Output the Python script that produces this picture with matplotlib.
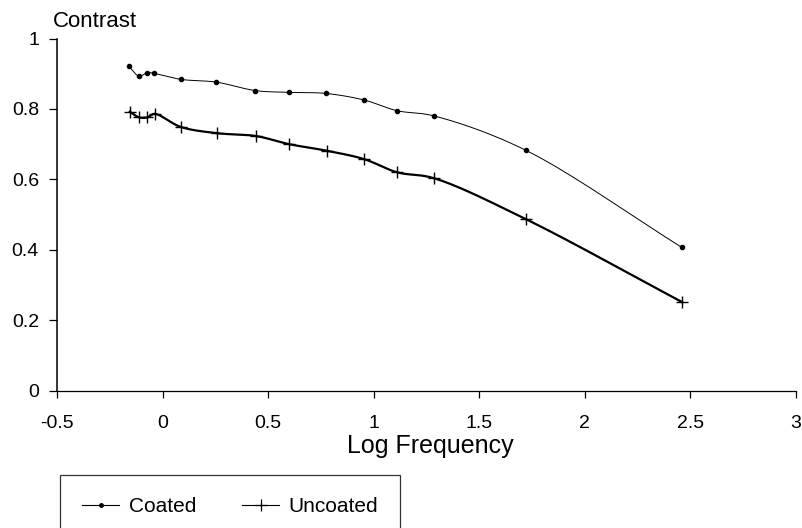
import numpy as np
import matplotlib
matplotlib.use("Agg")
import matplotlib.pyplot as plt
from matplotlib.lines import Line2D

# ---- data ----
coated_x = [-0.160, -0.112, -0.072, -0.041, 0.085, 0.255, 0.440, 0.598, 0.772, 0.956, 1.110, 1.286, 1.722, 2.458]
coated_y = [0.921, 0.893, 0.903, 0.901, 0.884, 0.876, 0.852, 0.847, 0.844, 0.825, 0.795, 0.780, 0.682, 0.407]
uncoated_x = [-0.155, -0.112, -0.072, -0.038, 0.085, 0.258, 0.442, 0.598, 0.779, 0.956, 1.110, 1.286, 1.720, 2.458]
uncoated_y = [0.792, 0.776, 0.776, 0.786, 0.749, 0.731, 0.723, 0.700, 0.681, 0.657, 0.620, 0.603, 0.487, 0.252]
xticks = [-0.5, 0, 0.5, 1, 1.5, 2, 2.5, 3]
xticklabels = ["-0.5", "0", "0.5", "1", "1.5", "2", "2.5", "3"]
yticks = [0, 0.2, 0.4, 0.6, 0.8, 1]
yticklabels = ["0", "0.2", "0.4", "0.6", "0.8", "1"]


def smooth(xs, ys, n=20):
    """Centripetal Catmull-Rom curve through the data points (for drawing only)."""
    P = np.column_stack([xs, ys]).astype(float)
    P = np.vstack([2 * P[0] - P[1], P, 2 * P[-1] - P[-2]])
    out = []
    for i in range(1, len(P) - 2):
        p0, p1, p2, p3 = P[i - 1], P[i], P[i + 1], P[i + 2]
        def tj(ti, a, b):
            return ti + max(np.linalg.norm(b - a), 1e-9) ** 0.5
        t0 = 0.0
        t1 = tj(t0, p0, p1)
        t2 = tj(t1, p1, p2)
        t3 = tj(t2, p2, p3)
        t = np.linspace(t1, t2, n)[:, None]
        A1 = (t1 - t) / (t1 - t0) * p0 + (t - t0) / (t1 - t0) * p1
        A2 = (t2 - t) / (t2 - t1) * p1 + (t - t1) / (t2 - t1) * p2
        A3 = (t3 - t) / (t3 - t2) * p2 + (t - t2) / (t3 - t2) * p3
        B1 = (t2 - t) / (t2 - t0) * A1 + (t - t0) / (t2 - t0) * A2
        B2 = (t3 - t) / (t3 - t1) * A2 + (t - t1) / (t3 - t1) * A3
        C = (t2 - t) / (t2 - t1) * B1 + (t - t1) / (t2 - t1) * B2
        out.append(C if i == 1 else C[1:])
    C = np.vstack(out)
    return C[:, 0], C[:, 1]


plt.rcParams['font.family'] = ['Liberation Sans', 'DejaVu Sans']

fig = plt.figure(figsize=(8.03, 5.28), dpi=100)
ax = fig.add_axes([57 / 803, 1 - 390.5 / 528, 739 / 803, 352 / 528])

sx, sy = smooth(coated_x, coated_y)
ax.plot(sx, sy, color='black', lw=0.7, clip_on=False)
ax.plot(coated_x, coated_y, linestyle='none', marker='o', ms=3, color='black', clip_on=False)

ux, uy = smooth(uncoated_x, uncoated_y)
ax.plot(ux, uy, color='black', lw=1.6, clip_on=False)
ax.plot(uncoated_x, uncoated_y, linestyle='none', marker='+', ms=9, mew=1.0, color='black', clip_on=False)

ax.set_xlim(-0.5, 3)
ax.set_ylim(0, 1)
ax.spines['top'].set_visible(False)
ax.spines['right'].set_visible(False)
ax.spines['left'].set_linewidth(1.1)
ax.spines['bottom'].set_linewidth(0.9)

ax.set_xticks(xticks)
ax.set_xticklabels(xticklabels)
ax.set_yticks(yticks)
ax.set_yticklabels(yticklabels)
ax.tick_params(axis='x', direction='out', length=5, width=0.9, pad=13, labelsize=14)
ax.tick_params(axis='y', direction='out', length=6, width=0.9, pad=7, labelsize=14)

ax.set_xlabel('Log Frequency', fontsize=18)
ax.xaxis.set_label_coords((430 - 57) / 739, (390.5 - 446) / 352)
ax.xaxis.label.set_va('center')

fig.text(53 / 803, 1 - 27 / 528, 'Contrast', fontsize=16, ha='left', va='baseline')

handles = [
    Line2D([], [], color='black', lw=0.8, marker='o', ms=2.5),
    Line2D([], [], color='black', lw=0.8, marker='+', ms=9, mew=0.9),
]
leg = fig.legend(handles, ['Coated', 'Uncoated'], loc='upper left',
                 bbox_to_anchor=(60 / 803, 1 - 475 / 528), ncol=2, fontsize=15,
                 frameon=True, fancybox=False, edgecolor='black', borderpad=1.05,
                 handlelength=1.8, handletextpad=0.45, columnspacing=2.2,
                 borderaxespad=0, numpoints=1)
leg.get_frame().set_linewidth(0.9)

fig.savefig('out.png', dpi=100, facecolor='white')
